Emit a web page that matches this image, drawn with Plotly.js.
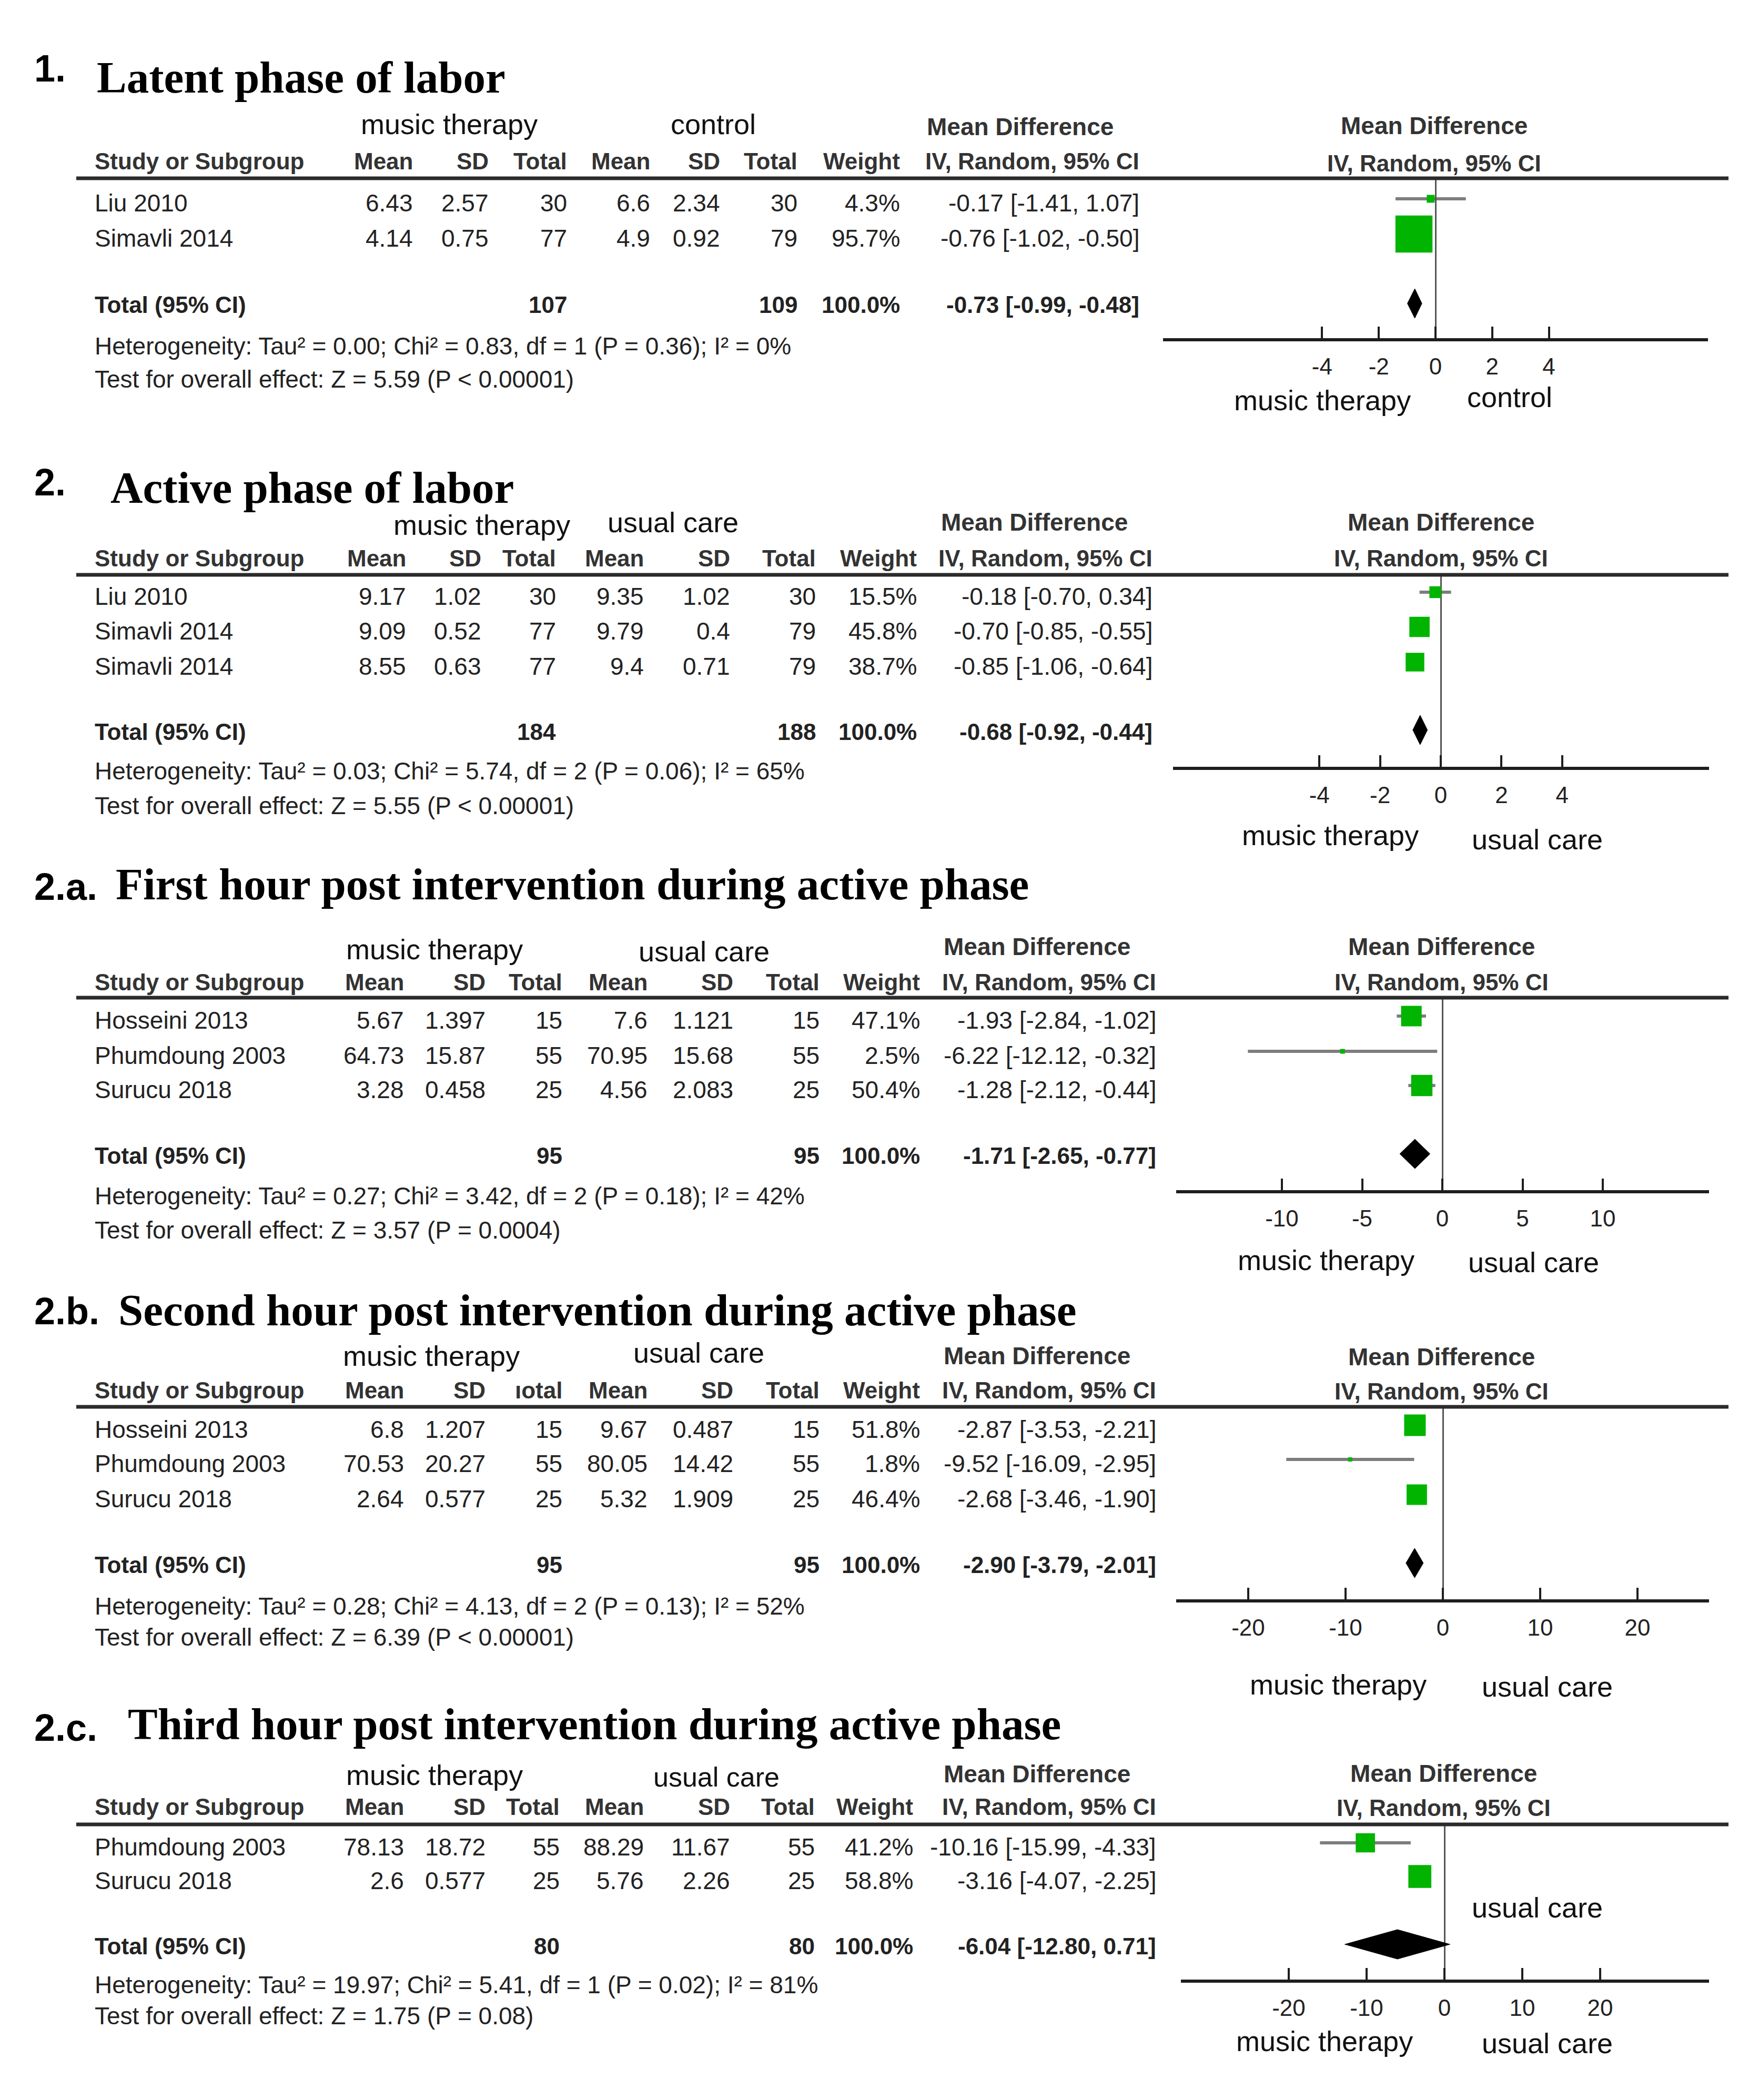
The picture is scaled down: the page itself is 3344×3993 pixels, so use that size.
<!DOCTYPE html>
<html>
<head>
<meta charset="utf-8">
<script src="https://cdn.plot.ly/plotly-3.0.1.min.js"></script>
<style>html,body{margin:0;padding:0;background:#fff}#chart{width:3344px;height:3993px}</style>
</head>
<body>
<div id="chart"></div>
<script>
// ---------------- DATA ----------------
// 1. Latent phase of labor
const p1Number = '1.';
const p1Title = 'Latent phase of labor';
const p1Groups = ['music therapy', 'control'];
const p1ColHeads = ['Mean', 'SD', 'Total', 'Mean', 'SD', 'Total', 'Weight', 'IV, Random, 95% CI'];
const p1Studies = ['Liu 2010', 'Simavli 2014'];
const p1MusicMean = [6.43, 4.14];
const p1MusicSD = [2.57, 0.75];
const p1MusicN = [30, 77];
const p1CtrlMean = [6.6, 4.9];
const p1CtrlSD = [2.34, 0.92];
const p1CtrlN = [30, 79];
const p1Weight = [4.3, 95.7];
const p1MD = [-0.17, -0.76];
const p1Lo = [-1.41, -1.02];
const p1Hi = [1.07, -0.50];
const p1TotalN = [107, 109];
const p1TotalMD = [-0.73, -0.99, -0.48];
const p1Ticks = [-4, -2, 0, 2, 4];
const p1Het = 'Heterogeneity: Tau² = 0.00; Chi² = 0.83, df = 1 (P = 0.36); I² = 0%';
const p1Test = 'Test for overall effect: Z = 5.59 (P &lt; 0.00001)';

// 2. Active phase of labor
const p2Number = '2.';
const p2Title = 'Active phase of labor';
const p2Groups = ['music therapy', 'usual care'];
const p2ColHeads = ['Mean', 'SD', 'Total', 'Mean', 'SD', 'Total', 'Weight', 'IV, Random, 95% CI'];
const p2Studies = ['Liu 2010', 'Simavli 2014', 'Simavli 2014'];
const p2MusicMean = [9.17, 9.09, 8.55];
const p2MusicSD = [1.02, 0.52, 0.63];
const p2MusicN = [30, 77, 77];
const p2CtrlMean = [9.35, 9.79, 9.4];
const p2CtrlSD = [1.02, 0.4, 0.71];
const p2CtrlN = [30, 79, 79];
const p2Weight = [15.5, 45.8, 38.7];
const p2MD = [-0.18, -0.70, -0.85];
const p2Lo = [-0.70, -0.85, -1.06];
const p2Hi = [0.34, -0.55, -0.64];
const p2TotalN = [184, 188];
const p2TotalMD = [-0.68, -0.92, -0.44];
const p2Ticks = [-4, -2, 0, 2, 4];
const p2Het = 'Heterogeneity: Tau² = 0.03; Chi² = 5.74, df = 2 (P = 0.06); I² = 65%';
const p2Test = 'Test for overall effect: Z = 5.55 (P &lt; 0.00001)';

// 2.a. First hour post intervention
const p3Number = '2.a.';
const p3Title = 'First hour post intervention during active phase';
const p3Groups = ['music therapy', 'usual care'];
const p3ColHeads = ['Mean', 'SD', 'Total', 'Mean', 'SD', 'Total', 'Weight', 'IV, Random, 95% CI'];
const p3Studies = ['Hosseini 2013', 'Phumdoung 2003', 'Surucu 2018'];
const p3MusicMean = [5.67, 64.73, 3.28];
const p3MusicSD = [1.397, 15.87, 0.458];
const p3MusicN = [15, 55, 25];
const p3CtrlMean = [7.6, 70.95, 4.56];
const p3CtrlSD = [1.121, 15.68, 2.083];
const p3CtrlN = [15, 55, 25];
const p3Weight = [47.1, 2.5, 50.4];
const p3MD = [-1.93, -6.22, -1.28];
const p3Lo = [-2.84, -12.12, -2.12];
const p3Hi = [-1.02, -0.32, -0.44];
const p3TotalN = [95, 95];
const p3TotalMD = [-1.71, -2.65, -0.77];
const p3Ticks = [-10, -5, 0, 5, 10];
const p3Het = 'Heterogeneity: Tau² = 0.27; Chi² = 3.42, df = 2 (P = 0.18); I² = 42%';
const p3Test = 'Test for overall effect: Z = 3.57 (P = 0.0004)';

// 2.b. Second hour post intervention
const p4Number = '2.b.';
const p4Title = 'Second hour post intervention during active phase';
const p4Groups = ['music therapy', 'usual care'];
const p4ColHeads = ['Mean', 'SD', 'ıotal', 'Mean', 'SD', 'Total', 'Weight', 'IV, Random, 95% CI'];
const p4Studies = ['Hosseini 2013', 'Phumdoung 2003', 'Surucu 2018'];
const p4MusicMean = [6.8, 70.53, 2.64];
const p4MusicSD = [1.207, 20.27, 0.577];
const p4MusicN = [15, 55, 25];
const p4CtrlMean = [9.67, 80.05, 5.32];
const p4CtrlSD = [0.487, 14.42, 1.909];
const p4CtrlN = [15, 55, 25];
const p4Weight = [51.8, 1.8, 46.4];
const p4MD = [-2.87, -9.52, -2.68];
const p4Lo = [-3.53, -16.09, -3.46];
const p4Hi = [-2.21, -2.95, -1.90];
const p4TotalN = [95, 95];
const p4TotalMD = [-2.90, -3.79, -2.01];
const p4Ticks = [-20, -10, 0, 10, 20];
const p4Het = 'Heterogeneity: Tau² = 0.28; Chi² = 4.13, df = 2 (P = 0.13); I² = 52%';
const p4Test = 'Test for overall effect: Z = 6.39 (P &lt; 0.00001)';

// 2.c. Third hour post intervention
const p5Number = '2.c.';
const p5Title = 'Third hour post intervention during active phase';
const p5Groups = ['music therapy', 'usual care'];
const p5ColHeads = ['Mean', 'SD', 'Total', 'Mean', 'SD', 'Total', 'Weight', 'IV, Random, 95% CI'];
const p5Studies = ['Phumdoung 2003', 'Surucu 2018'];
const p5MusicMean = [78.13, 2.6];
const p5MusicSD = [18.72, 0.577];
const p5MusicN = [55, 25];
const p5CtrlMean = [88.29, 5.76];
const p5CtrlSD = [11.67, 2.26];
const p5CtrlN = [55, 25];
const p5Weight = [41.2, 58.8];
const p5MD = [-10.16, -3.16];
const p5Lo = [-15.99, -4.07];
const p5Hi = [-4.33, -2.25];
const p5TotalN = [80, 80];
const p5TotalMD = [-6.04, -12.80, 0.71];
const p5Ticks = [-20, -10, 0, 10, 20];
const p5Het = 'Heterogeneity: Tau² = 19.97; Chi² = 5.41, df = 1 (P = 0.02); I² = 81%';
const p5Test = 'Test for overall effect: Z = 1.75 (P = 0.08)';

// ---------------- ASSEMBLY ----------------
const panels = [
  {num:p1Number, title:p1Title, groups:p1Groups, heads:p1ColHeads, studies:p1Studies, mm:p1MusicMean, ms:p1MusicSD, mn:p1MusicN, cm:p1CtrlMean, cs:p1CtrlSD, cn:p1CtrlN, w:p1Weight, md:p1MD, lo:p1Lo, hi:p1Hi, tn:p1TotalN, tmd:p1TotalMD, ticks:p1Ticks, het:p1Het, test:p1Test},
  {num:p2Number, title:p2Title, groups:p2Groups, heads:p2ColHeads, studies:p2Studies, mm:p2MusicMean, ms:p2MusicSD, mn:p2MusicN, cm:p2CtrlMean, cs:p2CtrlSD, cn:p2CtrlN, w:p2Weight, md:p2MD, lo:p2Lo, hi:p2Hi, tn:p2TotalN, tmd:p2TotalMD, ticks:p2Ticks, het:p2Het, test:p2Test},
  {num:p3Number, title:p3Title, groups:p3Groups, heads:p3ColHeads, studies:p3Studies, mm:p3MusicMean, ms:p3MusicSD, mn:p3MusicN, cm:p3CtrlMean, cs:p3CtrlSD, cn:p3CtrlN, w:p3Weight, md:p3MD, lo:p3Lo, hi:p3Hi, tn:p3TotalN, tmd:p3TotalMD, ticks:p3Ticks, het:p3Het, test:p3Test},
  {num:p4Number, title:p4Title, groups:p4Groups, heads:p4ColHeads, studies:p4Studies, mm:p4MusicMean, ms:p4MusicSD, mn:p4MusicN, cm:p4CtrlMean, cs:p4CtrlSD, cn:p4CtrlN, w:p4Weight, md:p4MD, lo:p4Lo, hi:p4Hi, tn:p4TotalN, tmd:p4TotalMD, ticks:p4Ticks, het:p4Het, test:p4Test},
  {num:p5Number, title:p5Title, groups:p5Groups, heads:p5ColHeads, studies:p5Studies, mm:p5MusicMean, ms:p5MusicSD, mn:p5MusicN, cm:p5CtrlMean, cs:p5CtrlSD, cn:p5CtrlN, w:p5Weight, md:p5MD, lo:p5Lo, hi:p5Hi, tn:p5TotalN, tmd:p5TotalMD, ticks:p5Ticks, het:p5Het, test:p5Test}
];

// layout positions (page pixels)
const cfg = [
  {numXY:[64,130], titleXY:[183,147], grpX:[854,1356], grpY:[236,236], mdXY:[1940,241], hdr2:306, line:339, rows:[386,453], total:580, het:658, test:721,
   cols:[786,930,1079,1237,1370,1517,1712,2167], zero:2729, unit:53.9, axL:2211, axR:3247, axY:643, rmdX:2726, rmdY:[239,310], bot:[[2514,761],[2870,755]], box:7.2},
  {numXY:[64,917], titleXY:[209,927], grpX:[916,1279], grpY:[998,993], mdXY:[1967,993], hdr2:1061, line:1093, rows:[1134,1200,1267], total:1391, het:1466, test:1532,
   cols:[773,916,1058,1225,1389,1552,1744,2192], zero:2739, unit:57.7, axL:2230, axR:3249, axY:1458, rmdX:2739, rmdY:[993,1061], bot:[[2529,1588],[2922,1596]], box:5.7},
  {numXY:[64,1686], titleXY:[219,1681], grpX:[826,1338], grpY:[1805,1809], mdXY:[1971,1800], hdr2:1867, line:1897, rows:[1940,2007,2072], total:2197, het:2274, test:2339,
   cols:[769,924,1070,1232,1395,1559,1750,2199], zero:2742, unit:30.5, axL:2236, axR:3249, axY:2263, rmdX:2740, rmdY:[1800,1867], bot:[[2521,2396],[2915,2400]], box:5.7},
  {numXY:[64,2493], titleXY:[224,2491], grpX:[820,1328], grpY:[2578,2572], mdXY:[1971,2578], hdr2:2643, line:2675, rows:[2718,2783,2850], total:2975, het:3054, test:3113,
   cols:[769,924,1070,1232,1395,1559,1750,2199], zero:2743, unit:18.5, axL:2236, axR:3249, axY:3041, rmdX:2740, rmdY:[2580,2645], bot:[[2544,3203],[2941,3207]], box:5.7},
  {numXY:[64,3285], titleXY:[242,3278], grpX:[826,1362], grpY:[3375,3379], mdXY:[1971,3373], hdr2:3435, line:3469, rows:[3512,3576], total:3700, het:3774, test:3833,
   cols:[769,924,1065,1225,1389,1550,1737,2199], zero:2746, unit:14.8, axL:2245, axR:3249, axY:3764, rmdX:2744, rmdY:[3372,3437], bot:[[2518,3881],[2941,3885]], extra:[2922,3627], box:5.7}
];

const W = 3344, H = 3993;
const SANS = 'Liberation Sans, Arial, sans-serif';
const SERIF = 'Liberation Serif, Times New Roman, serif';
const TXT = '#222222';
const HDR = '#333333';

function ann(x, y, text, o) {
  o = o || {};
  return {xref:'paper', yref:'paper', x:x / W, y:1 - y / H, text:text, showarrow:false,
    xanchor:o.anchor || 'left', yanchor:'middle', borderpad:0,
    font:{family:o.family || SANS, size:o.size || 46, color:o.color || TXT}};
}
const b = s => '<b>' + s + '</b>';
const f2 = v => v.toFixed(2);
const ciText = (m, l, h) => f2(m) + ' [' + f2(l) + ', ' + f2(h) + ']';

const traces = [];
const annotations = [];
const shapes = [];
const layout = {
  width:W, height:H, margin:{l:0, r:0, t:0, b:0},
  paper_bgcolor:'#ffffff', plot_bgcolor:'rgba(0,0,0,0)', showlegend:false
};

panels.forEach((p, i) => {
  const L = cfg[i];
  const xid = i === 0 ? 'x' : 'x' + (i + 1);
  const yid = i === 0 ? 'y' : 'y' + (i + 1);
  const xkey = i === 0 ? 'xaxis' : 'xaxis' + (i + 1);
  const ykey = i === 0 ? 'yaxis' : 'yaxis' + (i + 1);

  // titles
  annotations.push(ann(L.numXY[0], L.numXY[1], b(p.num), {size:72, color:'#000'}));
  annotations.push(ann(L.titleXY[0], L.titleXY[1], b(p.title), {family:SERIF, size:85, color:'#000'}));

  // group headers
  annotations.push(ann(L.grpX[0], L.grpY[0], p.groups[0], {anchor:'center', size:54, color:'#111'}));
  annotations.push(ann(L.grpX[1], L.grpY[1], p.groups[1], {anchor:'center', size:i === 4 ? 52 : 54, color:'#111'}));
  annotations.push(ann(L.mdXY[0], L.mdXY[1], b('Mean Difference'), {anchor:'center', size:46, color:HDR}));

  // column headers
  annotations.push(ann(179, L.hdr2, b('Study or Subgroup'), {size:44, color:HDR}));
  p.heads.forEach((h, j) => annotations.push(ann(L.cols[j], L.hdr2, b(h), {anchor:'right', size:44, color:HDR})));

  // right panel headers
  annotations.push(ann(L.rmdX, L.rmdY[0], b('Mean Difference'), {anchor:'center', size:46, color:HDR}));
  annotations.push(ann(L.rmdX, L.rmdY[1], b('IV, Random, 95% CI'), {anchor:'center', size:44, color:HDR}));

  // header rule
  shapes.push({type:'line', xref:'paper', yref:'paper', x0:145 / W, x1:3286 / W, y0:1 - L.line / H, y1:1 - L.line / H,
    line:{color:'#2b2b2b', width:7}});

  // study rows
  p.studies.forEach((s, j) => {
    const y = L.rows[j];
    const vals = [String(p.mm[j]), String(p.ms[j]), String(p.mn[j]), String(p.cm[j]), String(p.cs[j]), String(p.cn[j]),
      p.w[j].toFixed(1) + '%', ciText(p.md[j], p.lo[j], p.hi[j])];
    annotations.push(ann(179, y, s));
    vals.forEach((v, c) => annotations.push(ann(L.cols[c], y, v, {anchor:'right'})));
  });

  // total row
  annotations.push(ann(179, L.total, b('Total (95% CI)'), {size:44}));
  annotations.push(ann(L.cols[2], L.total, b(String(p.tn[0])), {anchor:'right', size:44}));
  annotations.push(ann(L.cols[5], L.total, b(String(p.tn[1])), {anchor:'right', size:44}));
  annotations.push(ann(L.cols[6], L.total, b('100.0%'), {anchor:'right', size:44}));
  annotations.push(ann(L.cols[7], L.total, b(ciText(p.tmd[0], p.tmd[1], p.tmd[2])), {anchor:'right', size:44}));
  annotations.push(ann(179, L.het, p.het));
  annotations.push(ann(179, L.test, p.test));

  // bottom labels
  annotations.push(ann(L.bot[0][0], L.bot[0][1], p.groups[0], {anchor:'center', size:54, color:'#111'}));
  annotations.push(ann(L.bot[1][0], L.bot[1][1], p.groups[1], {anchor:'center', size:54, color:'#111'}));
  if (L.extra) annotations.push(ann(L.extra[0], L.extra[1], p.groups[1], {anchor:'center', size:54, color:'#111'}));

  // axes
  layout[xkey] = {
    domain:[L.axL / W, L.axR / W], range:[(L.axL - L.zero) / L.unit, (L.axR - L.zero) / L.unit],
    anchor:yid, showline:true, linecolor:'#1e1e1e', linewidth:6, mirror:false,
    ticks:'inside', ticklen:22, tickwidth:4, tickcolor:'#1e1e1e',
    tickvals:p.ticks, ticktext:p.ticks.map(String), ticklabelstandoff:10,
    tickfont:{family:SANS, size:44, color:TXT},
    showgrid:false, zeroline:true, zerolinecolor:'#555555', zerolinewidth:3, fixedrange:true
  };
  layout[ykey] = {
    domain:[1 - L.axY / H, 1 - L.line / H], range:[L.axY, L.line], anchor:xid,
    visible:false, showgrid:false, zeroline:false, fixedrange:true
  };

  const rowY = L.rows.slice(0, p.studies.length).map(v => v - 8);
  // confidence-interval lines, drawn beneath the traces through the panel's axes
  p.studies.forEach((s, j) => {
    shapes.push({type:'line', layer:'below', xref:xid, yref:yid,
      x0:p.lo[j], x1:p.hi[j], y0:rowY[j], y1:rowY[j], line:{color:'#7d7d7d', width:6}});
  });
  // weighted squares (opaque)
  traces.push({type:'scatter', mode:'markers', x:p.md, y:rowY, xaxis:xid, yaxis:yid,
    marker:{symbol:'square', color:'#00b400', opacity:1, size:p.w.map(w => Math.max(8, L.box * Math.sqrt(w))), line:{width:0}},
    hoverinfo:'skip', cliponaxis:false});
  // pooled diamond
  const dy = L.total - 3, hh = 28;
  traces.push({type:'scatter', mode:'lines', fill:'toself', fillcolor:'#000000',
    x:[p.tmd[1], p.tmd[0], p.tmd[2], p.tmd[0], p.tmd[1]],
    y:[dy, dy - hh, dy, dy + hh, dy], xaxis:xid, yaxis:yid,
    line:{color:'#000000', width:1}, hoverinfo:'skip', cliponaxis:false});
});

layout.annotations = annotations;
layout.shapes = shapes;

Plotly.newPlot('chart', traces, layout, {staticPlot:true, displayModeBar:false});
</script>
</body>
</html>
